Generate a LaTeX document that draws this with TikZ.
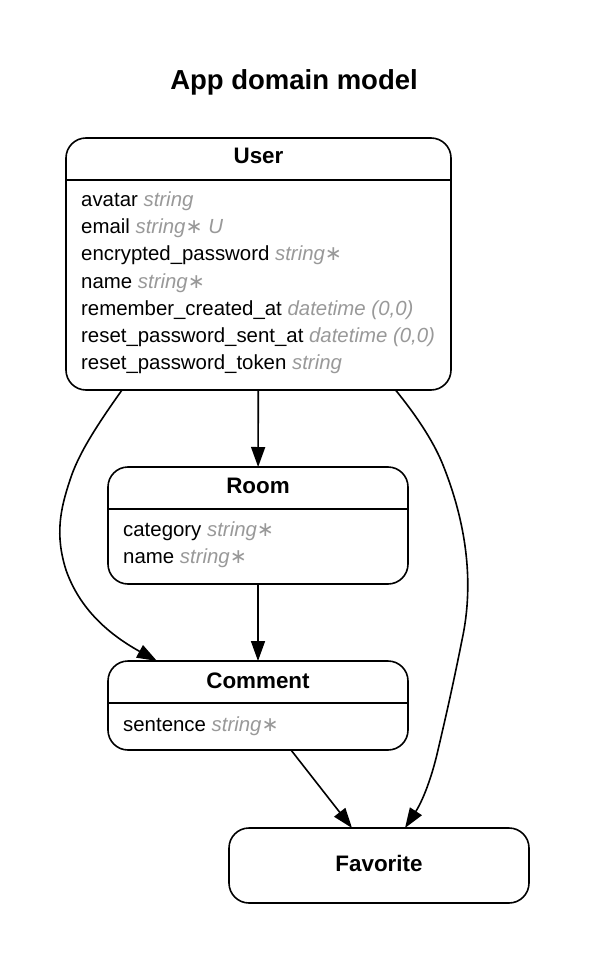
\documentclass[tikz,border=0pt]{standalone}
\usepackage{fontspec}
\setmainfont{Liberation Sans}
\newfontfamily\symfont{DejaVu Sans}
\usetikzlibrary{arrows.meta}

\definecolor{typegrey}{HTML}{999999}
\newcommand{\attrtype}[1]{{\color{typegrey}\itshape #1}}
\newcommand{\req}{{\upshape\symfont ∗}}

\begin{document}
\begin{tikzpicture}[x=1pt,y=-1pt,
    entity/.style={draw, line width=1.6pt, rounded corners=20pt, outer sep=0pt, inner sep=0pt},
    rel/.style={draw, line width=1.6pt, -{Triangle[length=20pt,width=14pt]}}]

      \fill[white] (0,0) rectangle (590,965);
      \useasboundingbox (0,0) rectangle (590,965);

      \node[inner sep=0pt, anchor=base, font=\fontsize{27.5pt}{32pt}\selectfont\bfseries] (title) at (294,90) {App domain model};

      \begin{scope}[every node/.style={entity}]
        \node[minimum width=385pt, minimum height=252pt] (user)     at (258.5,264)   {};
        \node[minimum width=300pt, minimum height=117pt] (room)     at (258,525.5)   {};
        \node[minimum width=300pt, minimum height=89pt]  (comment)  at (258,705.5)   {};
        \node[minimum width=300pt, minimum height=75pt]  (favorite) at (379,865.5)   {};
      \end{scope}

      \draw[line width=1.6pt] ([yshift=-42pt]user.north west) -- ([yshift=-42pt]user.north east);
      \draw[line width=1.6pt] ([yshift=-42pt]room.north west) -- ([yshift=-42pt]room.north east);
      \draw[line width=1.6pt] ([yshift=-42pt]comment.north west) -- ([yshift=-42pt]comment.north east);

      \begin{scope}[every node/.style={inner sep=0pt, anchor=base, font=\fontsize{22.4pt}{26pt}\selectfont\bfseries}]
        \node (userT)     at (258.5,164) {User};
        \node (roomT)     at (258,493)   {Room};
        \node (commentT)  at (258,688)   {Comment};
        \node (favoriteT) at (379,871)   {Favorite};
      \end{scope}

      \begin{scope}[every node/.style={inner sep=0pt, anchor=base west, font=\fontsize{20.4pt}{24pt}\selectfont}]
        \node (user1) at (81,207) {avatar \attrtype{string}};
        \node (user2) at (81,234) {email \attrtype{string\req{} U}};
        \node (user3) at (81,261) {encrypted\_password \attrtype{string\req}};
        \node (user4) at (81,288) {name \attrtype{string\req}};
        \node (user5) at (81,315) {remember\_created\_at \attrtype{datetime (0,0)}};
        \node (user6) at (81,342) {reset\_password\_sent\_at \attrtype{datetime (0,0)}};
        \node (user7) at (81,369) {reset\_password\_token \attrtype{string}};
        \node (room1) at (123,536) {category \attrtype{string\req}};
        \node (room2) at (123,563) {name \attrtype{string\req}};
        \node (comment1) at (123,731) {sentence \attrtype{string\req}};
      \end{scope}

      % relations
      \path (user)    edge[rel] (room);
      \path (room)    edge[rel] (comment);
      \path ([xshift=33pt]comment.south) edge[rel] ([xshift=-27pt]favorite.north);
      \draw[rel] ([xshift=-136.5pt]user.south) .. controls (95,428) and (78,455) .. (70,480)
        .. controls (60,510) and (55,535) .. (66,570)
        .. controls (80,610) and (110,635) .. ([xshift=-101pt]comment.north);
      \draw[rel] ([xshift=137pt]user.south) .. controls (420,420) and (435,445) .. (443,465)
        .. controls (465,520) and (475,580) .. (462,640)
        .. controls (452,690) and (445,720) .. (438,750)
        .. controls (430,785) and (420,805) .. ([xshift=26pt]favorite.north);

\end{tikzpicture}
\end{document}
